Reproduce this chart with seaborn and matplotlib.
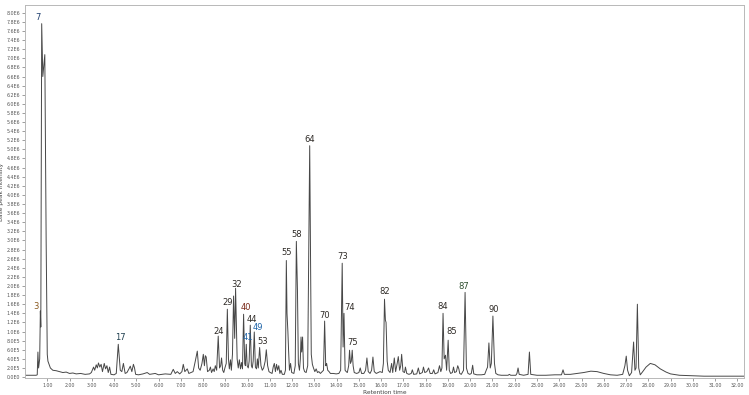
import numpy as np
import pandas as pd
import matplotlib
matplotlib.use("Agg")
import matplotlib.pyplot as plt
import seaborn as sns
from matplotlib.ticker import FixedLocator, FuncFormatter

# ---- data (retention time in min, intensity in 1e6 counts) ----
rt_a = [0.00, 0.50, 0.55, 0.58, 0.61, 0.66, 0.69, 0.71, 0.75, 0.80, 0.89, 0.95, 1.00, 1.03, 1.08,
        1.14, 1.25, 1.40, 1.55, 1.70, 1.85, 2.00, 2.15, 2.30, 2.50, 2.70, 2.90, 2.98, 3.08, 3.13,
        3.20, 3.25, 3.30, 3.36, 3.42, 3.48, 3.56, 3.62, 3.68, 3.74, 3.80, 3.86, 4.00, 4.10, 4.19,
        4.28, 4.35, 4.42, 4.50, 4.58, 4.67, 4.73, 4.80, 4.87, 4.92, 4.97, 5.10]
in_a = [0.04, 0.04, 0.05, 0.55, 0.20, 0.40, 1.45, 1.10, 7.76, 6.60, 7.08, 3.00, 0.50, 0.35, 0.28,
        0.20, 0.15, 0.14, 0.12, 0.10, 0.11, 0.08, 0.09, 0.07, 0.08, 0.06, 0.07, 0.10, 0.22, 0.15,
        0.27, 0.20, 0.31, 0.22, 0.28, 0.12, 0.30, 0.18, 0.25, 0.10, 0.22, 0.06, 0.05, 0.08, 0.72,
        0.15, 0.12, 0.30, 0.08, 0.10, 0.18, 0.24, 0.12, 0.28, 0.20, 0.06, 0.05]

rt_b = [5.30, 5.49, 5.60, 5.85, 6.00, 6.30, 6.55, 6.66, 6.75, 6.84, 6.95, 7.05, 7.11, 7.18, 7.29,
        7.36, 7.45, 7.55, 7.65, 7.74, 7.80, 7.87, 7.95, 8.01, 8.06, 8.10, 8.14, 8.20, 8.28, 8.33,
        8.38, 8.45, 8.50, 8.55, 8.61, 8.68, 8.74, 8.79, 8.83, 8.88, 8.93, 8.98]
in_b = [0.07, 0.10, 0.06, 0.08, 0.05, 0.07, 0.06, 0.17, 0.08, 0.12, 0.07, 0.12, 0.28, 0.12, 0.18,
        0.08, 0.10, 0.12, 0.35, 0.57, 0.20, 0.15, 0.30, 0.50, 0.25, 0.47, 0.44, 0.12, 0.15, 0.22,
        0.10, 0.18, 0.12, 0.25, 0.15, 0.90, 0.20, 0.25, 0.42, 0.15, 0.10, 0.20]

rt_c = [9.04, 9.09, 9.14, 9.18, 9.23, 9.27, 9.32, 9.37, 9.42, 9.46, 9.53, 9.58, 9.63, 9.68, 9.73,
        9.77, 9.82, 9.87, 9.90, 9.94, 9.98, 10.03, 10.07, 10.12, 10.17, 10.21, 10.25, 10.30, 10.35,
        10.40, 10.44, 10.48, 10.54, 10.60, 10.66, 10.72, 10.79, 10.84, 10.90, 10.96, 11.02, 11.10,
        11.15, 11.20, 11.25, 11.30, 11.35, 11.40, 11.45, 11.50, 11.56, 11.65, 11.70]
in_c = [0.30, 1.49, 0.40, 0.18, 0.38, 0.15, 0.50, 1.78, 0.85, 1.95, 0.40, 0.20, 0.38, 0.18, 0.32,
        0.18, 1.38, 0.30, 0.25, 0.72, 0.25, 0.20, 0.35, 1.14, 0.25, 0.20, 0.35, 0.99, 0.22,
        0.18, 0.40, 0.20, 0.65, 0.25, 0.15, 0.20, 0.35, 0.60, 0.25, 0.12, 0.10, 0.08,
        0.22, 0.30, 0.12, 0.28, 0.15, 0.25, 0.08, 0.15, 0.06, 0.06, 0.15]

rt_d = [11.74, 11.77, 11.81, 11.84, 11.88, 11.93, 11.98, 12.08, 12.14, 12.19, 12.24, 12.28, 12.33,
        12.37, 12.40, 12.43, 12.47, 12.51, 12.56, 12.63, 12.70, 12.79, 12.86, 12.91, 12.96, 13.02,
        13.08, 13.14, 13.20, 13.27, 13.35, 13.41, 13.46, 13.51, 13.55, 13.60, 13.66, 13.72, 13.85,
        13.98, 14.10, 14.18, 14.25, 14.29, 14.33, 14.38, 14.43, 14.48, 14.54, 14.58, 14.62, 14.66,
        14.70, 14.74, 14.79, 14.90, 15.00, 15.06, 15.12, 15.22, 15.30, 15.36, 15.42, 15.50, 15.57,
        15.63, 15.69, 15.78, 15.87, 15.95, 16.05, 16.10, 16.15, 16.19, 16.22, 16.27, 16.32]
in_d = [2.56, 1.40, 1.00, 0.60, 0.15, 0.30, 0.10, 0.08, 0.25, 2.98, 1.90, 0.30, 0.15,
        0.40, 0.88, 0.55, 0.88, 0.20, 0.12, 0.10, 0.25, 5.08, 0.50, 0.28, 0.20, 0.12,
        0.18, 0.10, 0.12, 0.08, 0.12, 0.15, 1.23, 0.25, 0.30, 0.15, 0.12, 0.08, 0.08,
        0.07, 0.08, 0.15, 2.50, 0.66, 1.40, 0.15, 0.12, 0.10, 0.25, 0.59, 0.30, 0.35,
        0.59, 0.25, 0.10, 0.08, 0.10, 0.20, 0.08, 0.08, 0.15, 0.42, 0.12, 0.08, 0.15,
        0.44, 0.12, 0.08, 0.10, 0.12, 0.10, 0.30, 1.71, 1.25, 1.20, 0.35, 0.15]

rt_e = [16.40, 16.47, 16.52, 16.59, 16.65, 16.72, 16.77, 16.83, 16.88, 16.92, 16.98, 17.05, 17.09,
        17.15, 17.25, 17.35, 17.40, 17.46, 17.60, 17.67, 17.73, 17.85, 17.90, 17.96, 18.05, 18.13,
        18.20, 18.30, 18.36, 18.42, 18.55, 18.62, 18.68, 18.73, 18.78, 18.83, 18.89, 18.94, 19.01,
        19.06, 19.12, 19.20, 19.25, 19.30, 19.38, 19.44, 19.49, 19.53, 19.60, 19.70, 19.77, 19.83,
        19.90, 19.98, 20.05, 20.11, 20.16, 20.30, 20.50, 20.65, 20.72, 20.78, 20.84, 20.90, 20.95,
        21.02, 21.09, 21.15, 21.25]
in_e = [0.10, 0.30, 0.10, 0.42, 0.12, 0.30, 0.45, 0.15, 0.25, 0.50, 0.12, 0.10, 0.22,
        0.08, 0.06, 0.08, 0.16, 0.06, 0.07, 0.20, 0.07, 0.10, 0.22, 0.10, 0.12, 0.20,
        0.08, 0.08, 0.16, 0.07, 0.10, 0.25, 0.12, 0.20, 1.40, 0.40, 0.48, 0.15, 0.81,
        0.15, 0.08, 0.10, 0.22, 0.10, 0.12, 0.25, 0.18, 0.08, 0.06, 0.15, 1.86, 0.20,
        0.08, 0.06, 0.08, 0.26, 0.07, 0.05, 0.05, 0.06, 0.15, 0.22, 0.75, 0.20, 0.30,
        1.34, 0.30, 0.08, 0.05]

rt_f = [21.40, 21.70, 21.76, 21.82, 22.05, 22.10, 22.15, 22.20, 22.40, 22.60, 22.66, 22.72, 23.00,
        23.40, 23.80, 24.10, 24.17, 24.23, 24.50, 24.80, 25.10, 25.42, 25.70, 26.00, 26.30, 26.60,
        26.85, 26.95, 27.01, 27.07, 27.15, 27.25, 27.34, 27.40, 27.45, 27.51, 27.57, 27.64, 27.75,
        27.90, 28.09, 28.30, 28.54, 28.80, 29.00, 29.40, 29.90, 30.50, 31.50, 32.30]
in_f = [0.04, 0.04, 0.06, 0.04, 0.04, 0.08, 0.20, 0.06, 0.04, 0.06, 0.55, 0.06, 0.04,
        0.04, 0.05, 0.05, 0.16, 0.06, 0.06, 0.08, 0.10, 0.13, 0.12, 0.08, 0.05, 0.04,
        0.06, 0.25, 0.46, 0.15, 0.03, 0.10, 0.77, 0.15, 0.20, 1.60, 0.20, 0.05, 0.12,
        0.22, 0.30, 0.27, 0.18, 0.11, 0.07, 0.04, 0.03, 0.02, 0.02, 0.02]

# peak annotations: label, retention time, intensity (1e6) of the label position
peak_labels = ["3", "7", "17", "24", "29", "32", "40", "41", "44", "49", "53", "55", "58", "64",
               "70", "73", "74", "75", "82", "84", "85", "87", "90"]
peak_rt = [0.48, 0.58, 4.28, 8.69, 9.09, 9.49, 9.94, 9.99, 10.20, 10.47, 10.66, 11.74, 12.19, 12.77,
           13.45, 14.25, 14.57, 14.70, 16.14, 18.75, 19.15, 19.73, 21.04]
peak_int = [1.54, 7.89, 0.86, 1.01, 1.63, 2.04, 1.52, 0.86, 1.27, 1.08, 0.79, 2.73, 3.12, 5.21,
            1.36, 2.64, 1.52, 0.75, 1.87, 1.56, 1.01, 2.00, 1.49]
label_colors = {"3": "#8a5a20", "7": "#1f3f6f", "40": "#7a2a1a", "41": "#1f64a8",
                "49": "#1f64a8", "87": "#2f4f2f", "17": "#1f3f4f"}

x_ticks = list(range(1, 33))

rt = rt_a + rt_b + rt_c + rt_d + rt_e + rt_f
inten = in_a + in_b + in_c + in_d + in_e + in_f
df = pd.DataFrame({"Retention time": rt, "Intensity": np.array(inten) * 1e6})

sns.set_style("white")
plt.rcParams["font.family"] = ["DejaVu Sans"]

fig = plt.figure(figsize=(7.49, 3.95), dpi=100)
ax = fig.add_axes([25 / 749, 1 - 378 / 395, (744 - 25) / 749, (378 - 5) / 395])

sns.lineplot(data=df, x="Retention time", y="Intensity", ax=ax, estimator=None, sort=False,
             color="#474747", linewidth=0.7)

ax.set_xlim(0, 32.3)
ax.set_ylim(-0.02e6, 8.17e6)

ax.xaxis.set_major_locator(FixedLocator(x_ticks))
ax.xaxis.set_major_formatter(FuncFormatter(lambda v, p: f"{v:.2f}"))
yt = [i * 0.2e6 for i in range(41)]
ax.yaxis.set_major_locator(FixedLocator(yt))


def efmt(v, p):
    if abs(v) < 1:
        return "0.0E0"
    e = int(np.floor(np.log10(v) + 1e-9))
    m = v / 10 ** e
    return f"{m:.1f}E{e}"


ax.yaxis.set_major_formatter(FuncFormatter(efmt))
ax.tick_params(axis="both", which="major", labelsize=3.4, colors="#555555", length=2,
               width=0.4, pad=1.5, direction="out", bottom=True, left=True)
for s in ax.spines.values():
    s.set_color("#b8b8b8")
    s.set_linewidth(0.7)

ax.set_xlabel("Retention time", fontsize=4.2, color="#444444", labelpad=1.5)
ax.set_ylabel("Base peak intensity", fontsize=4.2, color="#444444", labelpad=2)

for lab, x, y in zip(peak_labels, peak_rt, peak_int):
    ax.text(x, y * 1e6, lab, ha="center", va="center", fontsize=6.0,
            color=label_colors.get(lab, "#2e2a26"))

fig.savefig("out.png", dpi=100)
